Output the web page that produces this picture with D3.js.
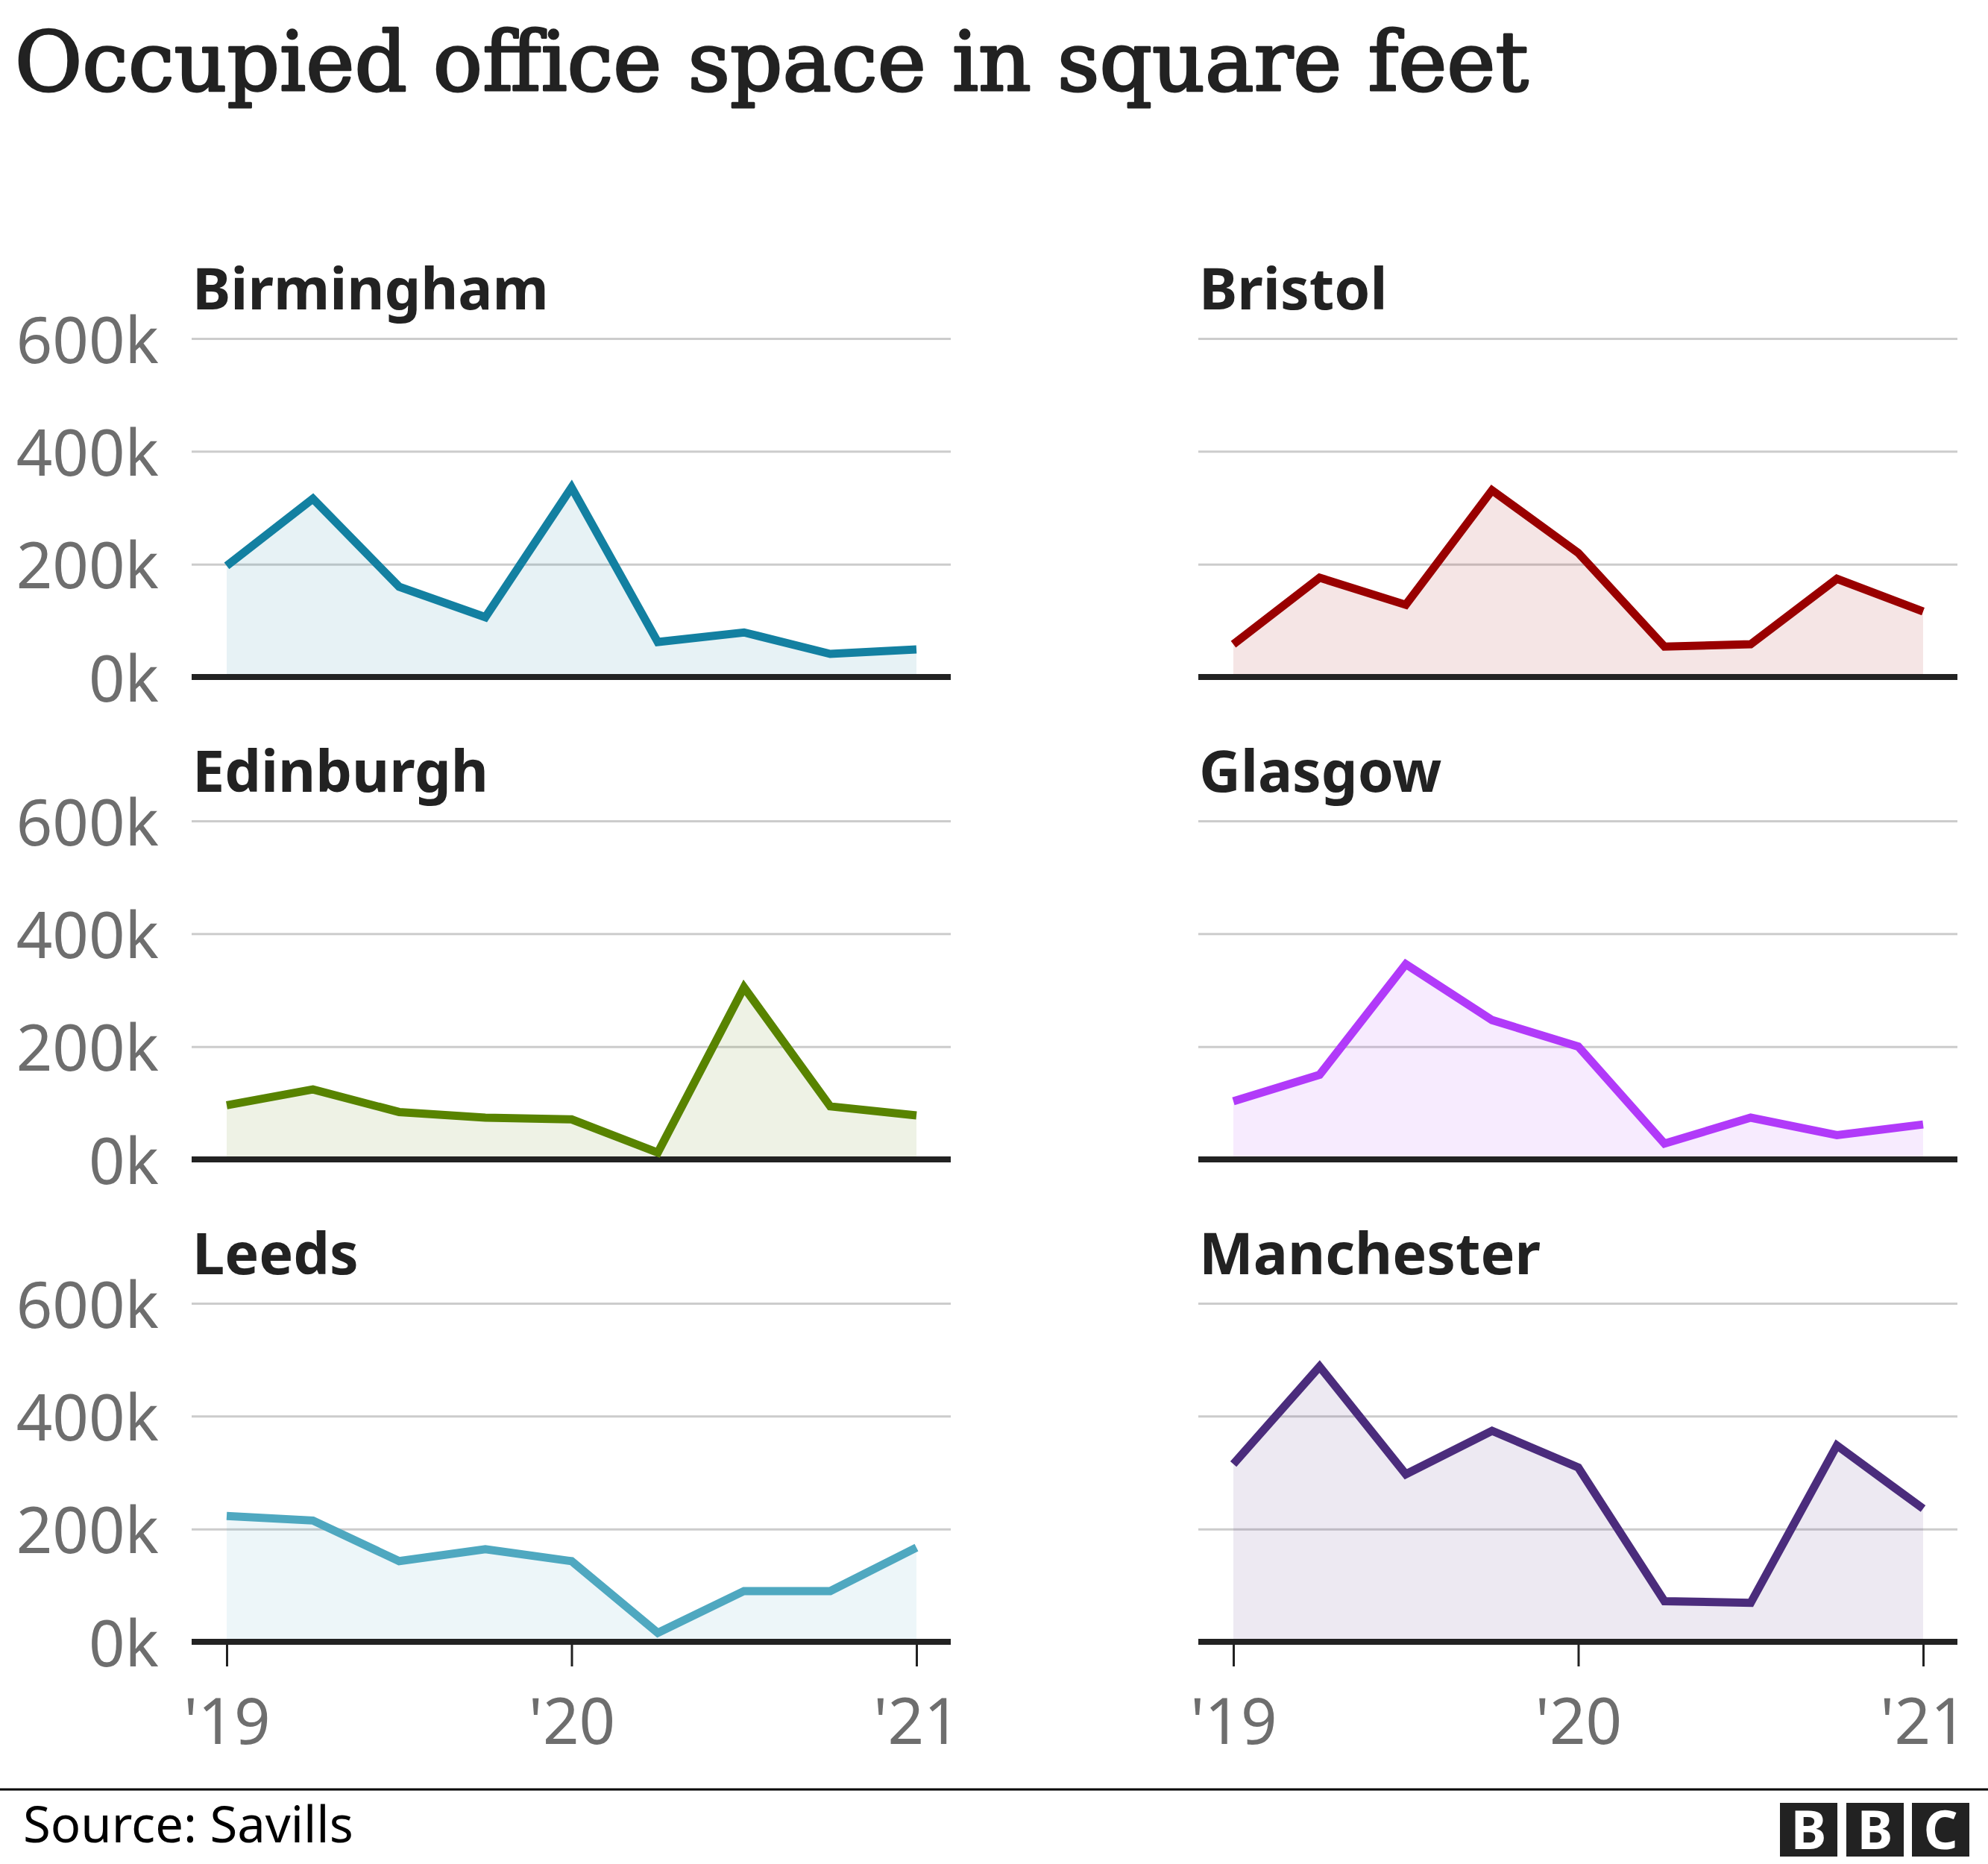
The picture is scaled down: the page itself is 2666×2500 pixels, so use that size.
<!DOCTYPE html>
<html>
<head>
<meta charset="utf-8">
<script src="https://cdn.jsdelivr.net/npm/d3@7"></script>
<style>
  html, body { margin: 0; padding: 0; background: #ffffff; }
  svg { display: block; }
</style>
</head>
<body>
<script>
// ---------------- DATA ----------------
const titleText = "Occupied office space in square feet";
const sourceText = "Source: Savills";
const quarters = [2019, 2019.25, 2019.5, 2019.75, 2020, 2020.25, 2020.5, 2020.75, 2021];
const xTickValues = [2019, 2020, 2021];
const xTickLabels = ["'19", "'20", "'21"];
const yTickValues = [0, 200000, 400000, 600000];
const yTickLabels = ["0k", "200k", "400k", "600k"];

const cities = ["Birmingham", "Bristol", "Edinburgh", "Glasgow", "Leeds", "Manchester"];
const birmingham = [197000, 316000, 160000, 106000, 336000, 62000, 79000, 41000, 49000];
const bristol    = [58000, 176000, 128000, 331000, 220000, 54000, 58000, 174000, 116000];
const edinburgh  = [96000, 124000, 84000, 74000, 71000, 12000, 305000, 94000, 78000];
const glasgow    = [103000, 150000, 346000, 247000, 200000, 28000, 74000, 43000, 62000];
const leeds      = [223000, 215000, 143000, 164000, 143000, 16000, 90000, 90000, 167000];
const manchester = [315000, 488000, 297000, 374000, 309000, 72000, 69000, 348000, 236000];
const cityColors = ["#1380a1", "#990000", "#588300", "#b13af9", "#4fa8c0", "#4b2c7c"];

const seriesValues = [birmingham, bristol, edinburgh, glasgow, leeds, manchester];

// ---------------- LAYOUT ----------------
const W = 2666, H = 2500;
const colLeft = [257, 1607];
const panelW = 1018;
const dataPad = [47, 972];
const rowTop = [454, 1101, 1748];
const plotH = 454;

const svg = d3.select("body").append("svg")
  .attr("width", W).attr("height", H)
  .attr("viewBox", `0 0 ${W} ${H}`);

svg.append("rect").attr("width", W).attr("height", H).attr("fill", "#fff");

// Title
const title = svg.append("text")
  .attr("x", 20).attr("y", 121)
  .attr("font-family", "'DejaVu Serif', 'Liberation Serif', serif")
  .attr("font-size", 110)
  .attr("fill", "#222222")
  .attr("stroke", "#222222").attr("stroke-width", 3).attr("stroke-linejoin", "round")
  .text(titleText);
{
  const w = title.node().getComputedTextLength();
  if (w > 0) title.attr("font-size", 110 * 2030 / w);
}

const SANS = "'Noto Sans', 'Open Sans', 'DejaVu Sans', sans-serif";

// panel title size fitted to reference width of "Birmingham"
let panelTitleSize = 80;
{
  const t = svg.append("text").attr("font-family", SANS).attr("font-weight", 700)
    .attr("font-size", 80).text(cities[0]);
  const w = t.node().getComputedTextLength();
  if (w > 0) panelTitleSize = 80 * 478 / w;
  t.remove();
}

cities.forEach((city, i) => {
  const col = i % 2, row = Math.floor(i / 2);
  const g = svg.append("g").attr("transform", `translate(${colLeft[col]},${rowTop[row]})`);

  const x = d3.scaleLinear().domain([2019, 2021]).range(dataPad);
  const y = d3.scaleLinear().domain([0, 600000]).range([plotH, 0]);

  // gridlines
  const grid = g.append("g").call(
    d3.axisLeft(y).tickValues(yTickValues.filter(v => v > 0))
      .tickSize(-panelW).tickFormat("")
  );
  grid.select(".domain").remove();
  grid.selectAll(".tick line").attr("stroke", "#cccccc").attr("stroke-width", 3);

  // y labels on left column only
  if (col === 0) {
    const ya = g.append("g").call(
      d3.axisLeft(y).tickValues(yTickValues).tickSize(0).tickPadding(44)
        .tickFormat(d => yTickLabels[yTickValues.indexOf(d)])
    );
    ya.select(".domain").remove();
    ya.selectAll(".tick text")
      .attr("font-family", SANS).attr("font-size", 85)
      .attr("fill", "#6e6e6e").attr("dy", "0.38em");
  }

  // panel title
  g.append("text")
    .attr("x", 1).attr("y", -39)
    .attr("font-family", SANS).attr("font-weight", 700)
    .attr("font-size", panelTitleSize).attr("fill", "#222222")
    .text(city);

  const data = quarters.map((q, k) => ({ q, v: seriesValues[i][k] }));

  // area
  g.append("path").datum(data)
    .attr("d", d3.area().x(d => x(d.q)).y0(y(0)).y1(d => y(d.v)))
    .attr("fill", cityColors[i]).attr("fill-opacity", 0.1);

  // x axis ticks for bottom row
  if (row === 2) {
    const xa = g.append("g").attr("transform", `translate(0,${y(0)})`).call(
      d3.axisBottom(x).tickValues(xTickValues).tickSize(33).tickPadding(44)
        .tickFormat(d => xTickLabels[xTickValues.indexOf(d)])
    );
    xa.select(".domain").remove();
    xa.selectAll(".tick line").attr("stroke", "#222222").attr("stroke-width", 3);
    xa.selectAll(".tick text")
      .attr("font-family", SANS).attr("font-size", 85)
      .attr("fill", "#6e6e6e");
  }

  // baseline
  g.append("line")
    .attr("x1", 0).attr("x2", panelW)
    .attr("y1", y(0)).attr("y2", y(0))
    .attr("stroke", "#222222").attr("stroke-width", 8);

  // line
  g.append("path").datum(data)
    .attr("d", d3.line().x(d => x(d.q)).y(d => y(d.v)))
    .attr("fill", "none").attr("stroke", cityColors[i])
    .attr("stroke-width", 11)
    .attr("stroke-linejoin", "miter").attr("stroke-miterlimit", 10)
    .attr("stroke-linecap", "butt");
});

// footer
svg.append("line").attr("x1", 0).attr("x2", W).attr("y1", 2400).attr("y2", 2400)
  .attr("stroke", "#000").attr("stroke-width", 3);

svg.append("text").attr("x", 31).attr("y", 2471)
  .attr("font-family", SANS).attr("font-size", 67).attr("fill", "#000")
  .text(sourceText);

const logoLetters = ["B", "B", "C"];
const logoX = [2387, 2476, 2564];
logoLetters.forEach((L, k) => {
  svg.append("rect").attr("x", logoX[k]).attr("y", 2418).attr("width", 77).attr("height", 72)
    .attr("fill", "#222222");
});
logoLetters.forEach((L, k) => {
  svg.append("text").attr("x", logoX[k] + 38.5).attr("y", 2454 + 26)
    .attr("text-anchor", "middle")
    .attr("font-family", SANS).attr("font-weight", 700).attr("font-size", 72)
    .attr("fill", "#fff").text(L);
});
</script>
</body>
</html>
